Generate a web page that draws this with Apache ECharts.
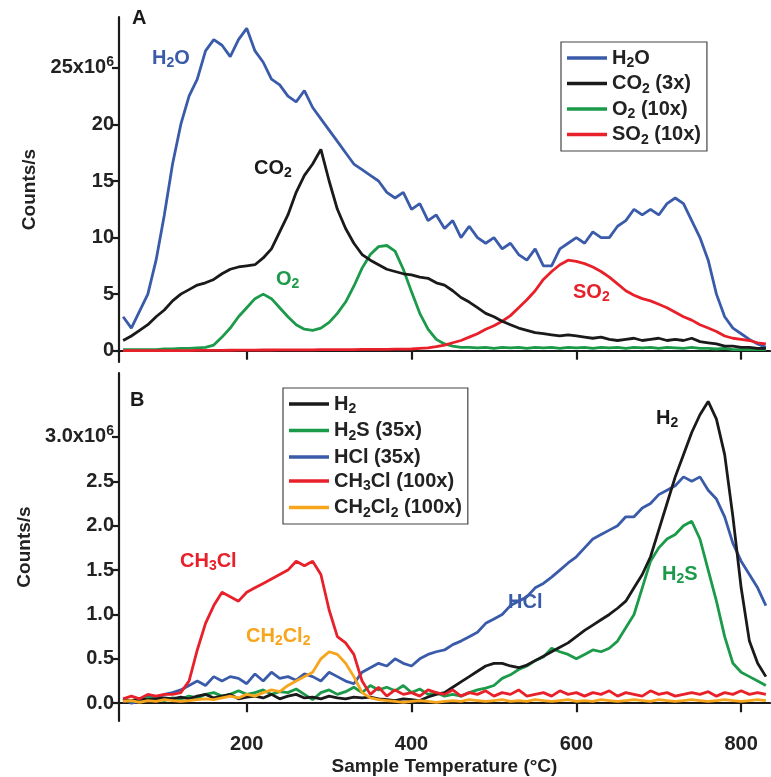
<!DOCTYPE html>
<html>
<head>
<meta charset="utf-8">
<script src="https://cdn.jsdelivr.net/npm/echarts@6/dist/echarts.min.js"></script>
<style>
  html, body { margin: 0; padding: 0; background: #fff; }
  #chart { width: 771px; height: 777px; }
</style>
</head>
<body>
<div id="chart"></div>
<script>
// temperatures (°C), 10 degree steps
const temps = [50,60,70,80,90,100,110,120,130,140,150,160,170,180,190,200,210,220,230,240,
  250,260,270,280,290,300,310,320,330,340,350,360,370,380,390,400,410,420,430,440,
  450,460,470,480,490,500,510,520,530,540,550,560,570,580,590,600,610,620,630,640,
  650,660,670,680,690,700,710,720,730,740,750,760,770,780,790,800,810,820,830];

// panel A, counts/s in units of 1e6
const h2o = [3,2,3.5,5,8,12,16.5,20,22.5,24,26.5,27.5,27,26,27.5,28.5,26.5,25.5,24,23.5,
  22.5,22,23,21.5,20.5,19.5,18.5,17.5,16.5,16,15.5,15,14,13.5,14,12.5,13,11.5,12,10.8,
  11.5,10,11,10,9.5,10,9,9.5,8.5,8,9,7.5,7.5,9,9.5,10,9.5,10.5,10,10,
  11,11.5,12.5,12,12.5,12,13,13.5,13,11.5,10,8,5,3,2,1.5,1,0.6,0.3];
const co2 = [0.9,1.3,1.8,2.3,3,3.6,4.4,5,5.4,5.8,6,6.3,6.8,7.2,7.4,7.5,7.6,8.2,9,10.5,
  12,14,15.5,16.5,17.8,15,12.5,10.8,9.5,8.5,8,7.6,7.2,7,6.8,6.7,6.5,6.4,6,5.8,
  5.3,4.7,4.3,3.8,3.3,3,2.6,2.3,2,1.8,1.6,1.5,1.4,1.3,1.4,1.3,1.2,1.1,1.2,1,
  0.9,1,1.1,0.9,1,1.1,0.9,1,0.9,1.1,0.8,0.7,0.6,0.4,0.4,0.3,0.3,0.2,0.2];
const o2 = [0.1,0.1,0.1,0.1,0.1,0.15,0.15,0.2,0.2,0.25,0.3,0.5,1.2,2,3,3.8,4.6,5,4.6,3.8,
  3,2.3,1.9,1.8,2,2.5,3.3,4.3,5.7,7.3,8.5,9.2,9.3,8.8,7.2,5.2,3.3,1.9,1,0.6,
  0.4,0.3,0.3,0.25,0.3,0.2,0.3,0.25,0.3,0.2,0.3,0.25,0.3,0.2,0.3,0.25,0.3,0.2,0.3,0.25,
  0.3,0.2,0.3,0.25,0.3,0.2,0.3,0.25,0.2,0.3,0.2,0.2,0.15,0.2,0.1,0.1,0.1,0.1,0.1];
const so2 = [0,0,0,0,0,0,0,0,0,0.02,0.02,0.03,0.03,0.04,0.05,0.05,0.05,0.06,0.06,0.07,
  0.07,0.08,0.08,0.08,0.09,0.09,0.1,0.1,0.1,0.11,0.11,0.12,0.12,0.13,0.14,0.15,0.2,0.25,0.35,0.5,
  0.7,0.9,1.2,1.5,1.9,2.2,2.6,3.1,3.8,4.5,5.3,6.3,7,7.6,8,7.9,7.7,7.4,7,6.5,
  5.9,5.3,4.9,4.6,4.4,4.1,3.8,3.4,3,2.7,2.3,2,1.7,1.3,1.1,1,0.9,0.7,0.6];

// panel B, counts/s in units of 1e6
const h2 = [0.02,0.03,0.05,0.04,0.05,0.06,0.05,0.07,0.05,0.08,0.1,0.06,0.08,0.1,0.05,0.07,0.08,0.06,0.1,0.05,
  0.08,0.1,0.06,0.07,0.05,0.08,0.06,0.05,0.07,0.06,0.07,0.05,0.04,0.03,0.05,0.04,0.03,0.07,0.1,0.12,
  0.18,0.24,0.3,0.36,0.42,0.45,0.45,0.42,0.4,0.43,0.48,0.53,0.58,0.63,0.68,0.75,0.82,0.88,0.94,1.0,
  1.07,1.15,1.3,1.45,1.65,1.95,2.25,2.55,2.8,3.05,3.25,3.4,3.2,2.8,2.1,1.3,0.7,0.45,0.3];
const h2s = [0.05,0.02,0.04,0.06,0.05,0.03,0.06,0.05,0.08,0.06,0.1,0.12,0.08,0.1,0.14,0.1,0.12,0.15,0.1,0.13,
  0.12,0.16,0.1,0.04,0.12,0.15,0.1,0.13,0.18,0.12,0.2,0.15,0.18,0.14,0.2,0.12,0.16,0.1,0.12,0.08,
  0.1,0.08,0.12,0.15,0.17,0.2,0.28,0.32,0.38,0.42,0.48,0.52,0.62,0.58,0.55,0.5,0.55,0.6,0.58,0.62,
  0.7,0.85,1.0,1.3,1.6,1.75,1.85,1.9,2.0,2.05,1.85,1.5,1.15,0.75,0.45,0.35,0.3,0.25,0.2];
const hcl = [0.05,0,0.02,0.08,0.05,0.1,0.12,0.15,0.2,0.25,0.2,0.3,0.25,0.3,0.28,0.22,0.33,0.25,0.35,0.28,
  0.3,0.26,0.33,0.3,0.25,0.35,0.3,0.25,0.22,0.35,0.4,0.45,0.42,0.5,0.45,0.42,0.5,0.55,0.58,0.6,
  0.66,0.7,0.75,0.8,0.9,0.95,1.0,1.1,1.15,1.2,1.3,1.35,1.42,1.5,1.58,1.65,1.75,1.85,1.9,1.95,
  2.0,2.1,2.1,2.2,2.25,2.35,2.4,2.45,2.55,2.5,2.55,2.4,2.3,2.1,1.8,1.6,1.45,1.3,1.1];
const ch3cl = [0.05,0.08,0.05,0.1,0.08,0.1,0.1,0.12,0.25,0.6,0.9,1.1,1.25,1.2,1.15,1.25,1.3,1.35,1.4,1.45,
  1.5,1.6,1.55,1.6,1.45,1.05,0.75,0.68,0.55,0.25,0.1,0.18,0.08,0.15,0.1,0.12,0.08,0.15,0.12,0.1,
  0.15,0.08,0.12,0.1,0.14,0.08,0.12,0.1,0.15,0.08,0.1,0.12,0.08,0.14,0.1,0.12,0.08,0.12,0.1,0.14,
  0.08,0.12,0.1,0.08,0.14,0.1,0.12,0.08,0.1,0.12,0.1,0.13,0.08,0.12,0.1,0.14,0.1,0.12,0.1];
const ch2cl2 = [0.02,0.03,0.01,0.03,0.02,0.04,0.03,0.02,0.03,0.04,0.05,0.04,0.06,0.08,0.06,0.1,0.08,0.12,0.15,0.13,
  0.2,0.25,0.3,0.35,0.5,0.58,0.55,0.45,0.3,0.12,0.06,0.04,0.03,0.02,0.01,0.02,0.03,0.02,0.01,0.02,
  0.03,0.02,0.04,0.03,0.02,0.03,0.04,0.02,0.03,0.02,0.04,0.03,0.02,0.03,0.04,0.02,0.03,0.02,0.04,0.03,
  0.02,0.03,0.04,0.03,0.02,0.04,0.03,0.02,0.03,0.04,0.03,0.02,0.03,0.04,0.03,0.02,0.03,0.04,0.03];

const xTicks = [200, 400, 600, 800];
const yTicksA = [0, 5, 10, 15, 20, 25];
const yTicksB = [0, 0.5, 1.0, 1.5, 2.0, 2.5, 3.0];

const C = { blue: '#3a5ba9', black: '#1a1a1a', green: '#1b9a4a', red: '#e8202a', orange: '#f7a51c' };
const FONT = 'Liberation Sans, Arial, sans-serif';
const FS = 20;

const legendText = {
  'H2O': '{n|H}{s|2}{n|O}',
  'CO2 (3x)': '{n|CO}{s|2}{n| (3x)}',
  'O2 (10x)': '{n|O}{s|2}{n| (10x)}',
  'SO2 (10x)': '{n|SO}{s|2}{n| (10x)}',
  'H2': '{n|H}{s|2}',
  'H2S (35x)': '{n|H}{s|2}{n|S (35x)}',
  'HCl (35x)': '{n|HCl (35x)}',
  'CH3Cl (100x)': '{n|CH}{s|3}{n|Cl (100x)}',
  'CH2Cl2 (100x)': '{n|CH}{s|2}{n|Cl}{s|2}{n| (100x)}'
};

function rich(color, size) {
  return {
    n: { fontSize: size, fontWeight: 'bold', color: color, fontFamily: FONT },
    s: { fontSize: size * 0.7, fontWeight: 'bold', color: color, fontFamily: FONT, padding: [size * 0.55, 0, 0, 0] },
    e: { fontSize: size * 0.7, fontWeight: 'bold', color: color, fontFamily: FONT, padding: [0, 0, size * 0.6, 0] }
  };
}

function zip(ys) { return temps.map((t, i) => [t, ys[i]]); }

function line(name, data, color, idx) {
  return {
    name: name, type: 'line', xAxisIndex: idx, yAxisIndex: idx,
    data: zip(data), showSymbol: false, smooth: false,
    lineStyle: { color: color, width: 2.8 }, itemStyle: { color: color }
  };
}

function xAxis(idx, labels) {
  return {
    type: 'value', gridIndex: idx, min: 45, max: 835,
    axisLine: { show: true, lineStyle: { color: '#1a1a1a', width: 2.2 } },
    axisTick: { show: true, customValues: xTicks, length: 9, lineStyle: { color: '#1a1a1a', width: 2.2 } },
    axisLabel: { show: labels, customValues: xTicks, fontSize: FS, fontWeight: 'bold', color: '#222', fontFamily: FONT, margin: 13 },
    splitLine: { show: false },
    name: labels ? 'Sample Temperature (°C)' : '', nameLocation: 'middle', nameGap: 36,
    nameTextStyle: { fontSize: 19, fontWeight: 'bold', color: '#222', fontFamily: FONT }
  };
}

function yAxis(idx, min, max, ticks, fmt) {
  return {
    type: 'value', gridIndex: idx, min: min, max: max,
    axisLine: { show: true, lineStyle: { color: '#1a1a1a', width: 2.2 } },
    axisTick: { show: true, customValues: ticks, length: 7, lineStyle: { color: '#1a1a1a', width: 2.2 } },
    axisLabel: { customValues: ticks, formatter: fmt, margin: 5, rich: rich('#222', FS), fontSize: FS, fontWeight: 'bold', color: '#222', fontFamily: FONT },
    splitLine: { show: false },
    name: 'Counts/s', nameLocation: 'middle', nameGap: 80,
    nameTextStyle: { fontSize: 19, fontWeight: 'bold', color: '#222', fontFamily: FONT }
  };
}

function legend(names, left, top, gap) {
  return {
    data: names, left: left, top: top, orient: 'vertical',
    backgroundColor: '#fff', borderColor: '#444', borderWidth: 1.2, padding: [6, 6, 4, 6],
    itemGap: gap, itemWidth: 40, itemHeight: 3.5, icon: 'rect', selectedMode: false,
    formatter: n => legendText[n],
    textStyle: { rich: rich('#222', FS) }
  };
}

function label(x, y, text, color) {
  return { type: 'text', left: x, top: y, z: 100, style: { text: text, rich: rich(color, FS), fill: color } };
}

const chart = echarts.init(document.getElementById('chart'));
chart.setOption({
  backgroundColor: '#fff',
  animation: false,
  grid: [
    { left: 119, right: 1, top: 17, height: 345 },
    { left: 119, right: 1, top: 373, height: 351 }
  ],
  xAxis: [xAxis(0, false), xAxis(1, true)],
  yAxis: [
    yAxis(0, -1, 29.5, yTicksA, v => v === 25 ? '{n|25x10}{e|6}' : '{n|' + v + '}'),
    yAxis(1, -0.2, 3.72, yTicksB, v => v === 3 ? '{n|3.0x10}{e|6}' : '{n|' + v.toFixed(1) + '}')
  ],
  legend: [
    legend(['H2O', 'CO2 (3x)', 'O2 (10x)', 'SO2 (10x)'], 561, 42, 3),
    legend(['H2', 'H2S (35x)', 'HCl (35x)', 'CH3Cl (100x)', 'CH2Cl2 (100x)'], 283, 388, 4)
  ],
  graphic: [
    label(132, 8, '{n|A}', '#1a1a1a'),
    label(130, 390, '{n|B}', '#1a1a1a'),
    label(152, 48, '{n|H}{s|2}{n|O}', C.blue),
    label(254, 158, '{n|CO}{s|2}', C.black),
    label(276, 269, '{n|O}{s|2}', C.green),
    label(573, 282, '{n|SO}{s|2}', C.red),
    label(656, 408, '{n|H}{s|2}', C.black),
    label(180, 551, '{n|CH}{s|3}{n|Cl}', C.red),
    label(246, 626, '{n|CH}{s|2}{n|Cl}{s|2}', C.orange),
    label(508, 592, '{n|HCl}', C.blue),
    label(662, 564, '{n|H}{s|2}{n|S}', C.green)
  ],
  series: [
    line('H2O', h2o, C.blue, 0),
    line('O2 (10x)', o2, C.green, 0),
    line('SO2 (10x)', so2, C.red, 0),
    line('CO2 (3x)', co2, C.black, 0),
    line('HCl (35x)', hcl, C.blue, 1),
    line('H2S (35x)', h2s, C.green, 1),
    line('H2', h2, C.black, 1),
    line('CH2Cl2 (100x)', ch2cl2, C.orange, 1),
    line('CH3Cl (100x)', ch3cl, C.red, 1)
  ]
});
</script>
</body>
</html>
